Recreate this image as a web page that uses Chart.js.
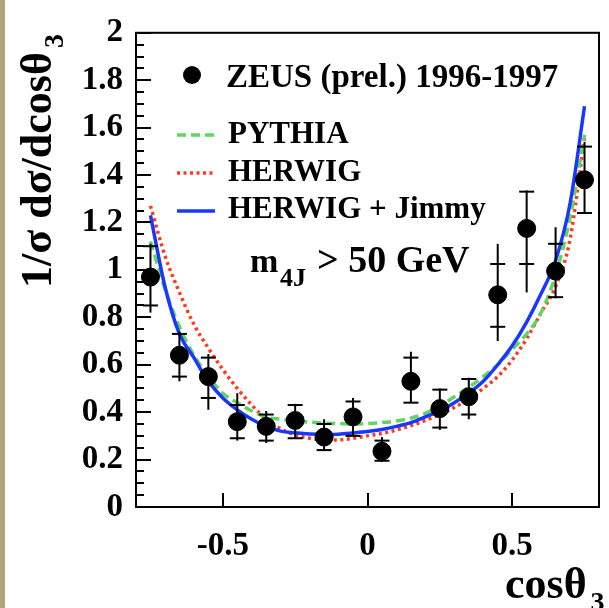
<!DOCTYPE html>
<html>
<head>
<meta charset="utf-8">
<script src="https://cdn.jsdelivr.net/npm/chart.js@4.4.1/dist/chart.umd.min.js"></script>
<style>
  html, body { margin: 0; padding: 0; background: #fff; }
  #wrap { position: relative; width: 609px; height: 608px; }
  #edge { position: absolute; left: 0; top: 0; width: 5px; height: 608px; background: #b3a37b; }
  canvas { position: absolute; left: 0; top: 0; }
</style>
</head>
<body>
<div id="wrap">
  <canvas id="cosChart" width="609" height="608"></canvas>
  <div id="edge"></div>
</div>
<script>
// ZEUS data, bins in cos(theta_3)
const binCentres = [-0.75, -0.65, -0.55, -0.45, -0.35, -0.25, -0.15, -0.05,
                    0.05, 0.15, 0.25, 0.35, 0.45, 0.55, 0.65, 0.75];
const zeusValues = [0.97, 0.64, 0.55, 0.36, 0.34, 0.365, 0.295, 0.38,
                    0.235, 0.53, 0.415, 0.465, 0.895, 1.175, 0.995, 1.38];
// inner bars (statistical) and outer bars (total)
const statHigh = [1.10, 0.73, 0.63, 0.43, 0.39, 0.43, 0.35, 0.445,
                  0.28, 0.63, 0.495, 0.54, 1.025, 1.33, 1.11, 1.52];
const statLow  = [0.85, 0.55, 0.46, 0.29, 0.28, 0.29, 0.24, 0.30,
                  0.195, 0.44, 0.335, 0.39, 0.76, 1.025, 0.885, 1.24];
const totHigh  = [1.11, 0.74, 0.645, 0.48, 0.405, 0.435, 0.37, 0.46,
                  0.295, 0.655, 0.50, 0.545, 1.11, 1.335, 1.18, 1.54];
const totLow   = [0.82, 0.53, 0.41, 0.28, 0.27, 0.29, 0.24, 0.30,
                  0.19, 0.44, 0.325, 0.37, 0.70, 0.905, 0.88, 1.24];

// Monte Carlo predictions
const mcX = [-0.75, -0.70, -0.65, -0.60, -0.55, -0.50, -0.45, -0.40, -0.35, -0.30, -0.25,
             -0.20, -0.15, -0.10, -0.05, 0.00, 0.05, 0.10, 0.15, 0.20, 0.25,
             0.30, 0.35, 0.40, 0.45, 0.50, 0.55, 0.60, 0.65, 0.70, 0.75];
const pythia = [1.12, 0.92, 0.76, 0.64, 0.55, 0.48, 0.44, 0.405, 0.38, 0.37, 0.363,
                0.358, 0.354, 0.352, 0.35, 0.352, 0.356, 0.363, 0.375, 0.395, 0.425,
                0.465, 0.505, 0.55, 0.60, 0.665, 0.73, 0.82, 0.98, 1.22, 1.57];
const herwig = [1.27, 1.06, 0.905, 0.77, 0.67, 0.58, 0.50, 0.43, 0.37, 0.33, 0.303,
                0.29, 0.283, 0.283, 0.29, 0.30, 0.31, 0.325, 0.343, 0.365, 0.39,
                0.42, 0.455, 0.50, 0.55, 0.62, 0.71, 0.82, 0.93, 1.13, 1.56];
const jimmy  = [1.23, 0.93, 0.73, 0.63, 0.53, 0.46, 0.41, 0.37, 0.34, 0.32, 0.313,
                0.308, 0.306, 0.307, 0.312, 0.318, 0.327, 0.34, 0.356, 0.38, 0.405,
                0.44, 0.48, 0.53, 0.60, 0.68, 0.78, 0.90, 1.04, 1.28, 1.69];

const xTicks = [-0.5, 0, 0.5];
const yTicks = [0, 0.2, 0.4, 0.6, 0.8, 1, 1.2, 1.4, 1.6, 1.8, 2];

const FONT = "'Liberation Serif', 'Times New Roman', serif";
const GREEN = '#62d462';
const RED = '#ff3a1c';
const BLUE = '#1838ff';

function pts(xs, ys) {
  return xs.map((x, i) => ({ x: x, y: ys[i] }));
}

function fmtTick(v) {
  if (Number.isInteger(v)) return String(v);
  return v.toFixed(1);
}

// error bars, inner ticks, frame and all the labels with subscripts
const decorations = {
  id: 'decorations',
  afterDatasetsDraw(chart) {
    const ctx = chart.ctx;
    const xs = chart.scales.x, ys = chart.scales.y;
    const area = chart.chartArea;

    ctx.save();
    ctx.strokeStyle = '#000';
    ctx.lineWidth = 2;
    binCentres.forEach((c, i) => {
      const px = xs.getPixelForValue(c);
      ctx.beginPath();
      ctx.moveTo(px, ys.getPixelForValue(totLow[i]));
      ctx.lineTo(px, ys.getPixelForValue(totHigh[i]));
      ctx.stroke();
      [statHigh[i], statLow[i]].forEach(v => {
        const py = ys.getPixelForValue(v);
        ctx.beginPath();
        ctx.moveTo(px - 7.5, py);
        ctx.lineTo(px + 7.5, py);
        ctx.stroke();
      });
    });

    // ticks pointing into the frame
    ctx.lineWidth = 2;
    for (let k = 0; k <= 40; k++) {
      const v = k * 0.05;
      const py = Math.round(ys.getPixelForValue(v));
      const len = (k % 4 === 0) ? 15 : 8;
      ctx.beginPath();
      ctx.moveTo(area.left, py);
      ctx.lineTo(area.left + len, py);
      ctx.stroke();
    }
    xTicks.forEach(v => {
      const px = Math.round(xs.getPixelForValue(v));
      ctx.beginPath();
      ctx.moveTo(px, area.bottom);
      ctx.lineTo(px, area.bottom - 14);
      ctx.stroke();
    });
    ctx.strokeRect(area.left, area.top, area.right - area.left, area.bottom - area.top);

    // legend
    ctx.fillStyle = '#000';
    ctx.beginPath();
    ctx.arc(192, 75, 9, 0, Math.PI * 2);
    ctx.fill();
    ctx.lineWidth = 3.5;
    const legendLine = (y, color, dash) => {
      ctx.strokeStyle = color;
      ctx.setLineDash(dash);
      ctx.beginPath();
      ctx.moveTo(177, y);
      ctx.lineTo(215, y);
      ctx.stroke();
    };
    legendLine(135, GREEN, [9, 5]);
    legendLine(173, RED, [3, 3.5]);
    legendLine(211, BLUE, []);
    ctx.setLineDash([]);

    ctx.textAlign = 'left';
    ctx.textBaseline = 'alphabetic';
    ctx.font = 'bold 33px ' + FONT;
    ctx.fillText('ZEUS (prel.) 1996-1997', 226, 87);
    ctx.font = 'bold 31px ' + FONT;
    ctx.fillText('PYTHIA', 228, 143);
    ctx.fillText('HERWIG', 228, 181);
    ctx.fillText('HERWIG + Jimmy', 228, 218);

    // cut on the four-jet mass
    ctx.font = 'bold 34px ' + FONT;
    ctx.fillText('m', 250, 272);
    ctx.font = 'bold 26px ' + FONT;
    ctx.fillText('4J', 280, 286);
    ctx.font = 'bold 38px ' + FONT;
    ctx.fillText('> 50 GeV', 317, 272);

    // axis titles
    ctx.font = 'bold 44px ' + FONT;
    ctx.fillText('cos\u03b8', 505, 598);
    let w = ctx.measureText('cos\u03b8').width;
    ctx.font = 'bold 28px ' + FONT;
    ctx.fillText('3', 505 + w + 4, 611);

    ctx.save();
    ctx.translate(51, 288);
    ctx.rotate(-Math.PI / 2);
    ctx.font = 'bold 44px ' + FONT;
    ctx.fillText('1/\u03c3 d\u03c3/dcos\u03b8', 0, 0);
    w = ctx.measureText('1/\u03c3 d\u03c3/dcos\u03b8').width;
    ctx.font = 'bold 28px ' + FONT;
    ctx.fillText('3', w + 4, 12);
    ctx.restore();

    ctx.restore();
  }
};

new Chart(document.getElementById('cosChart'), {
  type: 'scatter',
  data: {
    datasets: [
      {
        label: 'ZEUS (prel.) 1996-1997',
        data: pts(binCentres, zeusValues),
        backgroundColor: '#000',
        borderColor: '#000',
        pointRadius: 9,
        pointHoverRadius: 9,
        order: 0
      },
      {
        type: 'line',
        label: 'HERWIG + Jimmy',
        data: pts(mcX, jimmy),
        borderColor: BLUE,
        borderWidth: 3.5,
        pointRadius: 0,
        cubicInterpolationMode: 'monotone',
        fill: false,
        order: 1
      },
      {
        type: 'line',
        label: 'PYTHIA',
        data: pts(mcX, pythia),
        borderColor: GREEN,
        borderWidth: 3.5,
        borderDash: [9, 5],
        pointRadius: 0,
        cubicInterpolationMode: 'monotone',
        fill: false,
        order: 2
      },
      {
        type: 'line',
        label: 'HERWIG',
        data: pts(mcX, herwig),
        borderColor: RED,
        borderWidth: 3.5,
        borderDash: [3, 3.5],
        pointRadius: 0,
        cubicInterpolationMode: 'monotone',
        fill: false,
        order: 3
      }
    ]
  },
  options: {
    responsive: false,
    devicePixelRatio: 1,
    animation: false,
    layout: { padding: { top: 20, right: 2, left: 0, bottom: 0 } },
    plugins: {
      legend: { display: false },
      tooltip: { enabled: false }
    },
    scales: {
      x: {
        type: 'linear',
        min: -0.8,
        max: 0.8,
        afterBuildTicks: s => { s.ticks = xTicks.map(v => ({ value: v })); },
        afterFit: s => { s.height = 101; },
        grid: { display: false, drawTicks: false },
        border: { display: false },
        ticks: {
          color: '#000',
          font: { family: FONT, weight: 'bold', size: 33 },
          padding: 20,
          maxRotation: 0,
          autoSkip: false,
          callback: v => fmtTick(v)
        }
      },
      y: {
        type: 'linear',
        min: 0,
        max: 2,
        afterBuildTicks: s => { s.ticks = yTicks.map(v => ({ value: v })); },
        afterFit: s => { s.width = 136; },
        grid: { display: false, drawTicks: false },
        border: { display: false },
        ticks: {
          color: '#000',
          font: { family: FONT, weight: 'bold', size: 33 },
          padding: 13,
          autoSkip: false,
          callback: v => fmtTick(v)
        }
      }
    }
  },
  plugins: [decorations]
});
</script>
</body>
</html>
